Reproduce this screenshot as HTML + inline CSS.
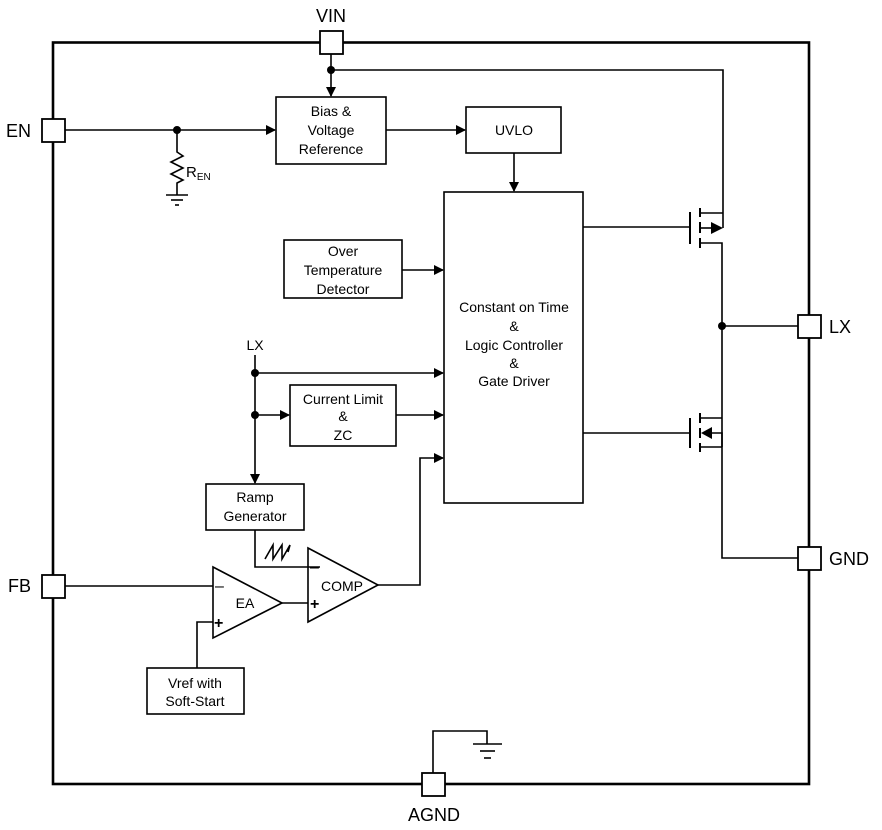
<!DOCTYPE html>
<html><head><meta charset="utf-8"><style>
html,body{margin:0;padding:0;background:#fff}
svg{display:block}
text{font-family:"Liberation Sans",Arial,sans-serif;fill:#000}
</style></head><body>
<svg width="882" height="830" viewBox="0 0 882 830" xmlns="http://www.w3.org/2000/svg">
<defs>
<marker id="a" markerWidth="10" markerHeight="10" refX="9" refY="5" orient="auto" markerUnits="userSpaceOnUse">
<path d="M0,0 L10,5 L0,10 z" fill="#000"/></marker>
</defs>
<g fill="none" stroke="#000" stroke-width="1.6">
<!-- outer -->
<rect x="53" y="42.5" width="756" height="741.5" stroke-width="2.6"/>
<!-- pins -->
<g fill="#fff" stroke-width="1.8">
<rect x="320" y="31" width="23" height="23"/>
<rect x="42" y="119" width="23" height="23"/>
<rect x="798" y="315" width="23" height="23"/>
<rect x="798" y="547" width="23" height="23"/>
<rect x="42" y="575" width="23" height="23"/>
<rect x="422" y="773" width="23" height="23"/>
</g>
<!-- VIN -->
<line x1="331" y1="54" x2="331" y2="96" marker-end="url(#a)"/>
<polyline points="331,70 723,70 723,228"/>
<!-- Bias box -->
<rect x="276" y="97" width="110" height="67"/>
<line x1="65" y1="130" x2="275" y2="130" marker-end="url(#a)"/>
<line x1="386" y1="130" x2="465" y2="130" marker-end="url(#a)"/>
<rect x="466" y="107" width="95" height="46"/>
<line x1="514" y1="153" x2="514" y2="191" marker-end="url(#a)"/>
<!-- REN -->
<polyline points="177,130 177,152 183,156 171,162 183,168 171,174 183,180 177,183 177,195"/>
<line x1="166" y1="195" x2="188" y2="195"/>
<line x1="171" y1="200" x2="183" y2="200"/>
<line x1="175" y1="205" x2="179" y2="205"/>
<!-- main -->
<rect x="444" y="192" width="139" height="311"/>
<rect x="284" y="240" width="118" height="58"/>
<line x1="402" y1="270" x2="443" y2="270" marker-end="url(#a)"/>
<!-- LX sense -->
<line x1="255" y1="355" x2="255" y2="483" marker-end="url(#a)"/>
<line x1="255" y1="373" x2="443" y2="373" marker-end="url(#a)"/>
<line x1="255" y1="415" x2="289" y2="415" marker-end="url(#a)"/>
<rect x="290" y="385" width="106" height="61"/>
<line x1="396" y1="415" x2="443" y2="415" marker-end="url(#a)"/>
<polyline points="378,585 420,585 420,458 443,458" marker-end="url(#a)"/>
<!-- ramp -->
<rect x="206" y="484" width="98" height="46"/>
<polyline points="255,530 255,567 320,567"/>
<polyline points="265,559 273,545 273,559 282,545 282,559 290,545 288,552"/>
<!-- COMP -->
<polygon points="308,548 308,622 378,585"/>
<!-- EA -->
<polygon points="213,567 213,638 282,603"/>
<line x1="65" y1="586" x2="213" y2="586"/>
<line x1="282" y1="603" x2="308" y2="603"/>
<polyline points="213,622 197,622 197,668"/>
<rect x="147" y="668" width="97" height="46"/>
<!-- top MOSFET -->
<line x1="583" y1="227" x2="690" y2="227"/>
<line x1="690" y1="212" x2="690" y2="244" stroke-width="2"/>
<line x1="700" y1="208" x2="700" y2="217" stroke-width="2"/>
<line x1="700" y1="222" x2="700" y2="233" stroke-width="2"/>
<line x1="700" y1="238" x2="700" y2="248" stroke-width="2"/>
<line x1="700" y1="213" x2="723" y2="213"/>
<line x1="700" y1="228" x2="712" y2="228"/>
<polyline points="700,243 722,243 722,558 798,558"/>
<line x1="722" y1="326" x2="798" y2="326"/>
<!-- bottom MOSFET -->
<line x1="583" y1="433" x2="690" y2="433"/>
<line x1="690" y1="418" x2="690" y2="448" stroke-width="2"/>
<line x1="700" y1="413" x2="700" y2="423" stroke-width="2"/>
<line x1="700" y1="428" x2="700" y2="438" stroke-width="2"/>
<line x1="700" y1="443" x2="700" y2="452" stroke-width="2"/>
<line x1="700" y1="418" x2="722" y2="418"/>
<line x1="700" y1="447" x2="722" y2="447"/>
<polyline points="712,433 722,433 722,447"/>
<!-- AGND -->
<polyline points="433,773 433,731 487,731 487,744"/>
<line x1="473" y1="744" x2="502" y2="744"/>
<line x1="480" y1="751" x2="495" y2="751"/>
<line x1="484" y1="758" x2="491" y2="758"/>
</g>
<g fill="#000">
<circle cx="331" cy="70" r="4"/>
<circle cx="177" cy="130" r="4"/>
<circle cx="255" cy="373" r="4"/>
<circle cx="255" cy="415" r="4"/>
<circle cx="722" cy="326" r="4"/>
<polygon points="723,228 711,222 711,234"/>
<polygon points="701,433 712,427 712,439"/>
</g>
<g font-size="15">
<text x="331" y="22" text-anchor="middle" font-size="18">VIN</text>
<text x="6" y="137" font-size="18">EN</text>
<text x="829" y="333" font-size="18">LX</text>
<text x="829" y="565" font-size="18">GND</text>
<text x="8" y="592" font-size="18">FB</text>
<text x="434" y="821" text-anchor="middle" font-size="18">AGND</text>
<text x="186" y="177" font-size="15">R<tspan font-size="10" dy="3">EN</tspan></text>
<g text-anchor="middle" font-size="14">
<text x="331" y="116">Bias &amp;</text>
<text x="331" y="135">Voltage</text>
<text x="331" y="154">Reference</text>
<text x="514" y="135">UVLO</text>
<text x="343" y="256">Over</text>
<text x="343" y="275">Temperature</text>
<text x="343" y="294">Detector</text>
<text x="514" y="312">Constant on Time</text>
<text x="514" y="331">&amp;</text>
<text x="514" y="350">Logic Controller</text>
<text x="514" y="368">&amp;</text>
<text x="514" y="386">Gate Driver</text>
<text x="343" y="404">Current Limit</text>
<text x="343" y="421">&amp;</text>
<text x="343" y="440">ZC</text>
<text x="255" y="502">Ramp</text>
<text x="255" y="521">Generator</text>
<text x="195" y="688">Vref with</text>
<text x="195" y="706">Soft-Start</text>
<text x="342" y="591">COMP</text>
<text x="245" y="608">EA</text>
<text x="255" y="350">LX</text>
</g>
<text x="215" y="591" font-size="16">–</text>
<text x="214" y="628" font-size="16" font-weight="bold">+</text>
<text x="310" y="572" font-size="16">–</text>
<text x="310" y="609" font-size="16" font-weight="bold">+</text>
</g>
</svg>
</body></html>
